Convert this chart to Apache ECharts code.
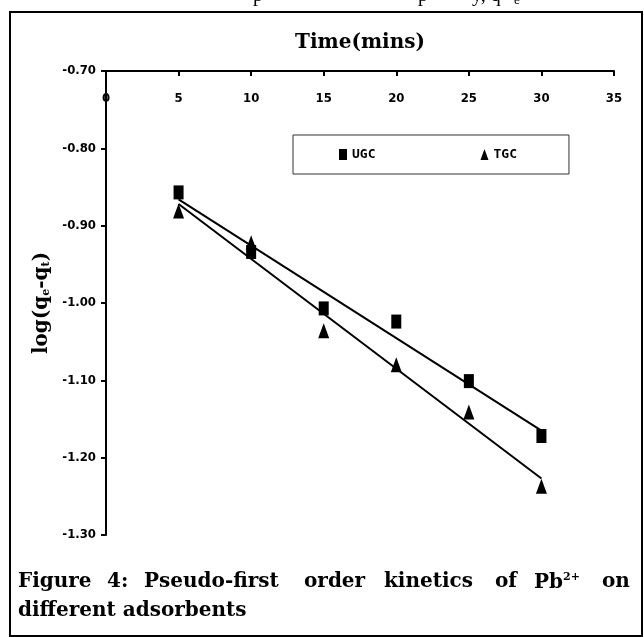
<!DOCTYPE html>
<html>
<head>
<meta charset="utf-8">
<script src="https://cdn.jsdelivr.net/npm/echarts@6/dist/echarts.min.js"></script>
<style>
html,body{margin:0;padding:0;background:#fff;}
#chart{width:644px;height:637px;}
</style>
</head>
<body>
<div id="chart"></div>
<script>
// ---- data ----
var timeMins = [5, 10, 15, 20, 25, 30];
var ugcValues = [-0.857, -0.934, -1.007, -1.024, -1.101, -1.172];
var tgcValues = [-0.881, -0.922, -1.036, -1.080, -1.141, -1.237];
// fitted straight lines (end points)
var fitX = [5, 30];
var ugcFit = [-0.866, -1.165];
var tgcFit = [-0.872, -1.227];
var xTicks = [0, 5, 10, 15, 20, 25, 30, 35];
var yTicks = [-1.30, -1.20, -1.10, -1.00, -0.90, -0.80, -0.70];
var seriesNames = ['UGC', 'TGC'];

function pairs(xs, ys) { return xs.map(function (x, i) { return [x, ys[i]]; }); }

var tickFont = "'Liberation Sans Narrow','DejaVu Sans Condensed','Liberation Sans',sans-serif";
var serif = "'DejaVu Serif','Liberation Serif',serif";
var lserif = "'Liberation Serif','DejaVu Serif',serif";

var chart = echarts.init(document.getElementById('chart'), null, {renderer: 'canvas'});
var option = {
  backgroundColor: '#fff',
  animation: false,
  grid: {left: 106, top: 71, right: 30, bottom: 102, containLabel: false},
  legend: {
    left: 293, top: 135,
    padding: [13, 52, 13, 46],
    itemGap: 105,
    itemWidth: 8, itemHeight: 11,
    borderColor: '#333', borderWidth: 1,
    itemStyle: {opacity: 1, color: '#000'},
    textStyle: {fontFamily: "'DejaVu Sans Mono',monospace", fontWeight: 'bold', fontSize: 13, color: '#000'},
    data: [{name: seriesNames[0], icon: 'rect'}, {name: seriesNames[1], icon: 'triangle'}]
  },
  xAxis: {
    type: 'value', position: 'top',
    min: xTicks[0], max: xTicks[xTicks.length - 1], interval: 5,
    axisLine: {show: true, onZero: false, lineStyle: {color: '#000', width: 2}},
    axisTick: {show: true, inside: true, length: 5, lineStyle: {color: '#000', width: 2}},
    axisLabel: {inside: true, margin: 21, fontFamily: tickFont, fontWeight: 'bold', fontSize: 13, color: '#000'},
    splitLine: {show: false},
    name: 'Time(mins)', nameLocation: 'middle', nameGap: 18,
    nameTextStyle: {fontFamily: serif, fontWeight: 'bold', fontSize: 20, color: '#000'}
  },
  yAxis: {
    type: 'value',
    min: yTicks[0], max: yTicks[yTicks.length - 1], interval: 0.1,
    axisLine: {show: true, onZero: false, lineStyle: {color: '#000', width: 2}},
    axisTick: {show: true, inside: false, length: 5, lineStyle: {color: '#000', width: 2}},
    axisLabel: {margin: 10, fontFamily: tickFont, fontWeight: 'bold', fontSize: 13, color: '#000',
      formatter: function (v) { return v.toFixed(2); }},
    splitLine: {show: false},
    name: '{a|log(q}{s|e}{a|-q}{s|t}{a|)}', nameLocation: 'middle', nameGap: 44, nameRotate: 90,
    nameTextStyle: {
      rich: {
        a: {fontFamily: serif, fontWeight: 'bold', fontSize: 20, color: '#000', lineHeight: 26},
        s: {fontFamily: serif, fontWeight: 'bold', fontSize: 11, color: '#000', lineHeight: 26, padding: [9, 0, 0, 0]}
      }
    }
  },
  series: [
    {name: 'UGC fit', type: 'line', data: pairs(fitX, ugcFit), symbol: 'none', silent: true,
      lineStyle: {color: '#000', width: 2}, z: 2},
    {name: 'TGC fit', type: 'line', data: pairs(fitX, tgcFit), symbol: 'none', silent: true,
      lineStyle: {color: '#000', width: 2}, z: 2},
    {name: seriesNames[0], type: 'scatter', data: pairs(timeMins, ugcValues), symbol: 'rect',
      symbolSize: [10, 14], itemStyle: {color: '#000', opacity: 1}, z: 3},
    {name: seriesNames[1], type: 'scatter', data: pairs(timeMins, tgcValues), symbol: 'triangle',
      symbolSize: [11, 15], itemStyle: {color: '#000', opacity: 1}, z: 3}
  ],
  graphic: [
    {type: 'rect', shape: {x: 10, y: 12, width: 632, height: 624}, silent: true,
      style: {fill: 'none', stroke: '#000', lineWidth: 2}, z: -1},
    // fragments of the preceding caption line clipped by the top of the picture
    {type: 'text', left: 253, top: -14, style: {text: 'p', font: '20px ' + lserif, fill: '#000'}},
    {type: 'text', left: 418, top: -14, style: {text: 'p', font: '20px ' + lserif, fill: '#000'}},
    {type: 'text', left: 472, top: -14, style: {text: 'y, q', font: '20px ' + lserif, fill: '#000'}},
    {type: 'text', left: 514, top: -6, style: {text: 'e', font: '13px ' + lserif, fill: '#000'}},
    // caption
    {type: 'text', left: 18, top: 572, style: {text: 'Figure', font: 'bold 20px ' + serif, fill: '#000'}},
    {type: 'text', left: 107, top: 572, style: {text: '4:', font: 'bold 20px ' + serif, fill: '#000'}},
    {type: 'text', left: 144, top: 572, style: {text: 'Pseudo-first', font: 'bold 20px ' + serif, fill: '#000'}},
    {type: 'text', left: 304, top: 572, style: {text: 'order', font: 'bold 20px ' + serif, fill: '#000'}},
    {type: 'text', left: 384, top: 572, style: {text: 'kinetics', font: 'bold 20px ' + serif, fill: '#000'}},
    {type: 'text', left: 495, top: 572, style: {text: 'of', font: 'bold 20px ' + serif, fill: '#000'}},
    {type: 'text', left: 534, top: 572, style: {
      text: '{a|Pb}{s|2+}', rich: {
        a: {font: 'bold 20px ' + serif, fill: '#000', lineHeight: 24},
        s: {font: 'bold 11px ' + serif, fill: '#000', lineHeight: 24, padding: [0, 0, 10, 0]}}}},
    {type: 'text', left: 602, top: 572, style: {text: 'on', font: 'bold 20px ' + serif, fill: '#000'}},
    {type: 'text', left: 18, top: 601, style: {text: 'different adsorbents', font: 'bold 20px ' + serif, fill: '#000'}}
  ]
};
chart.setOption(option);
</script>
</body>
</html>
